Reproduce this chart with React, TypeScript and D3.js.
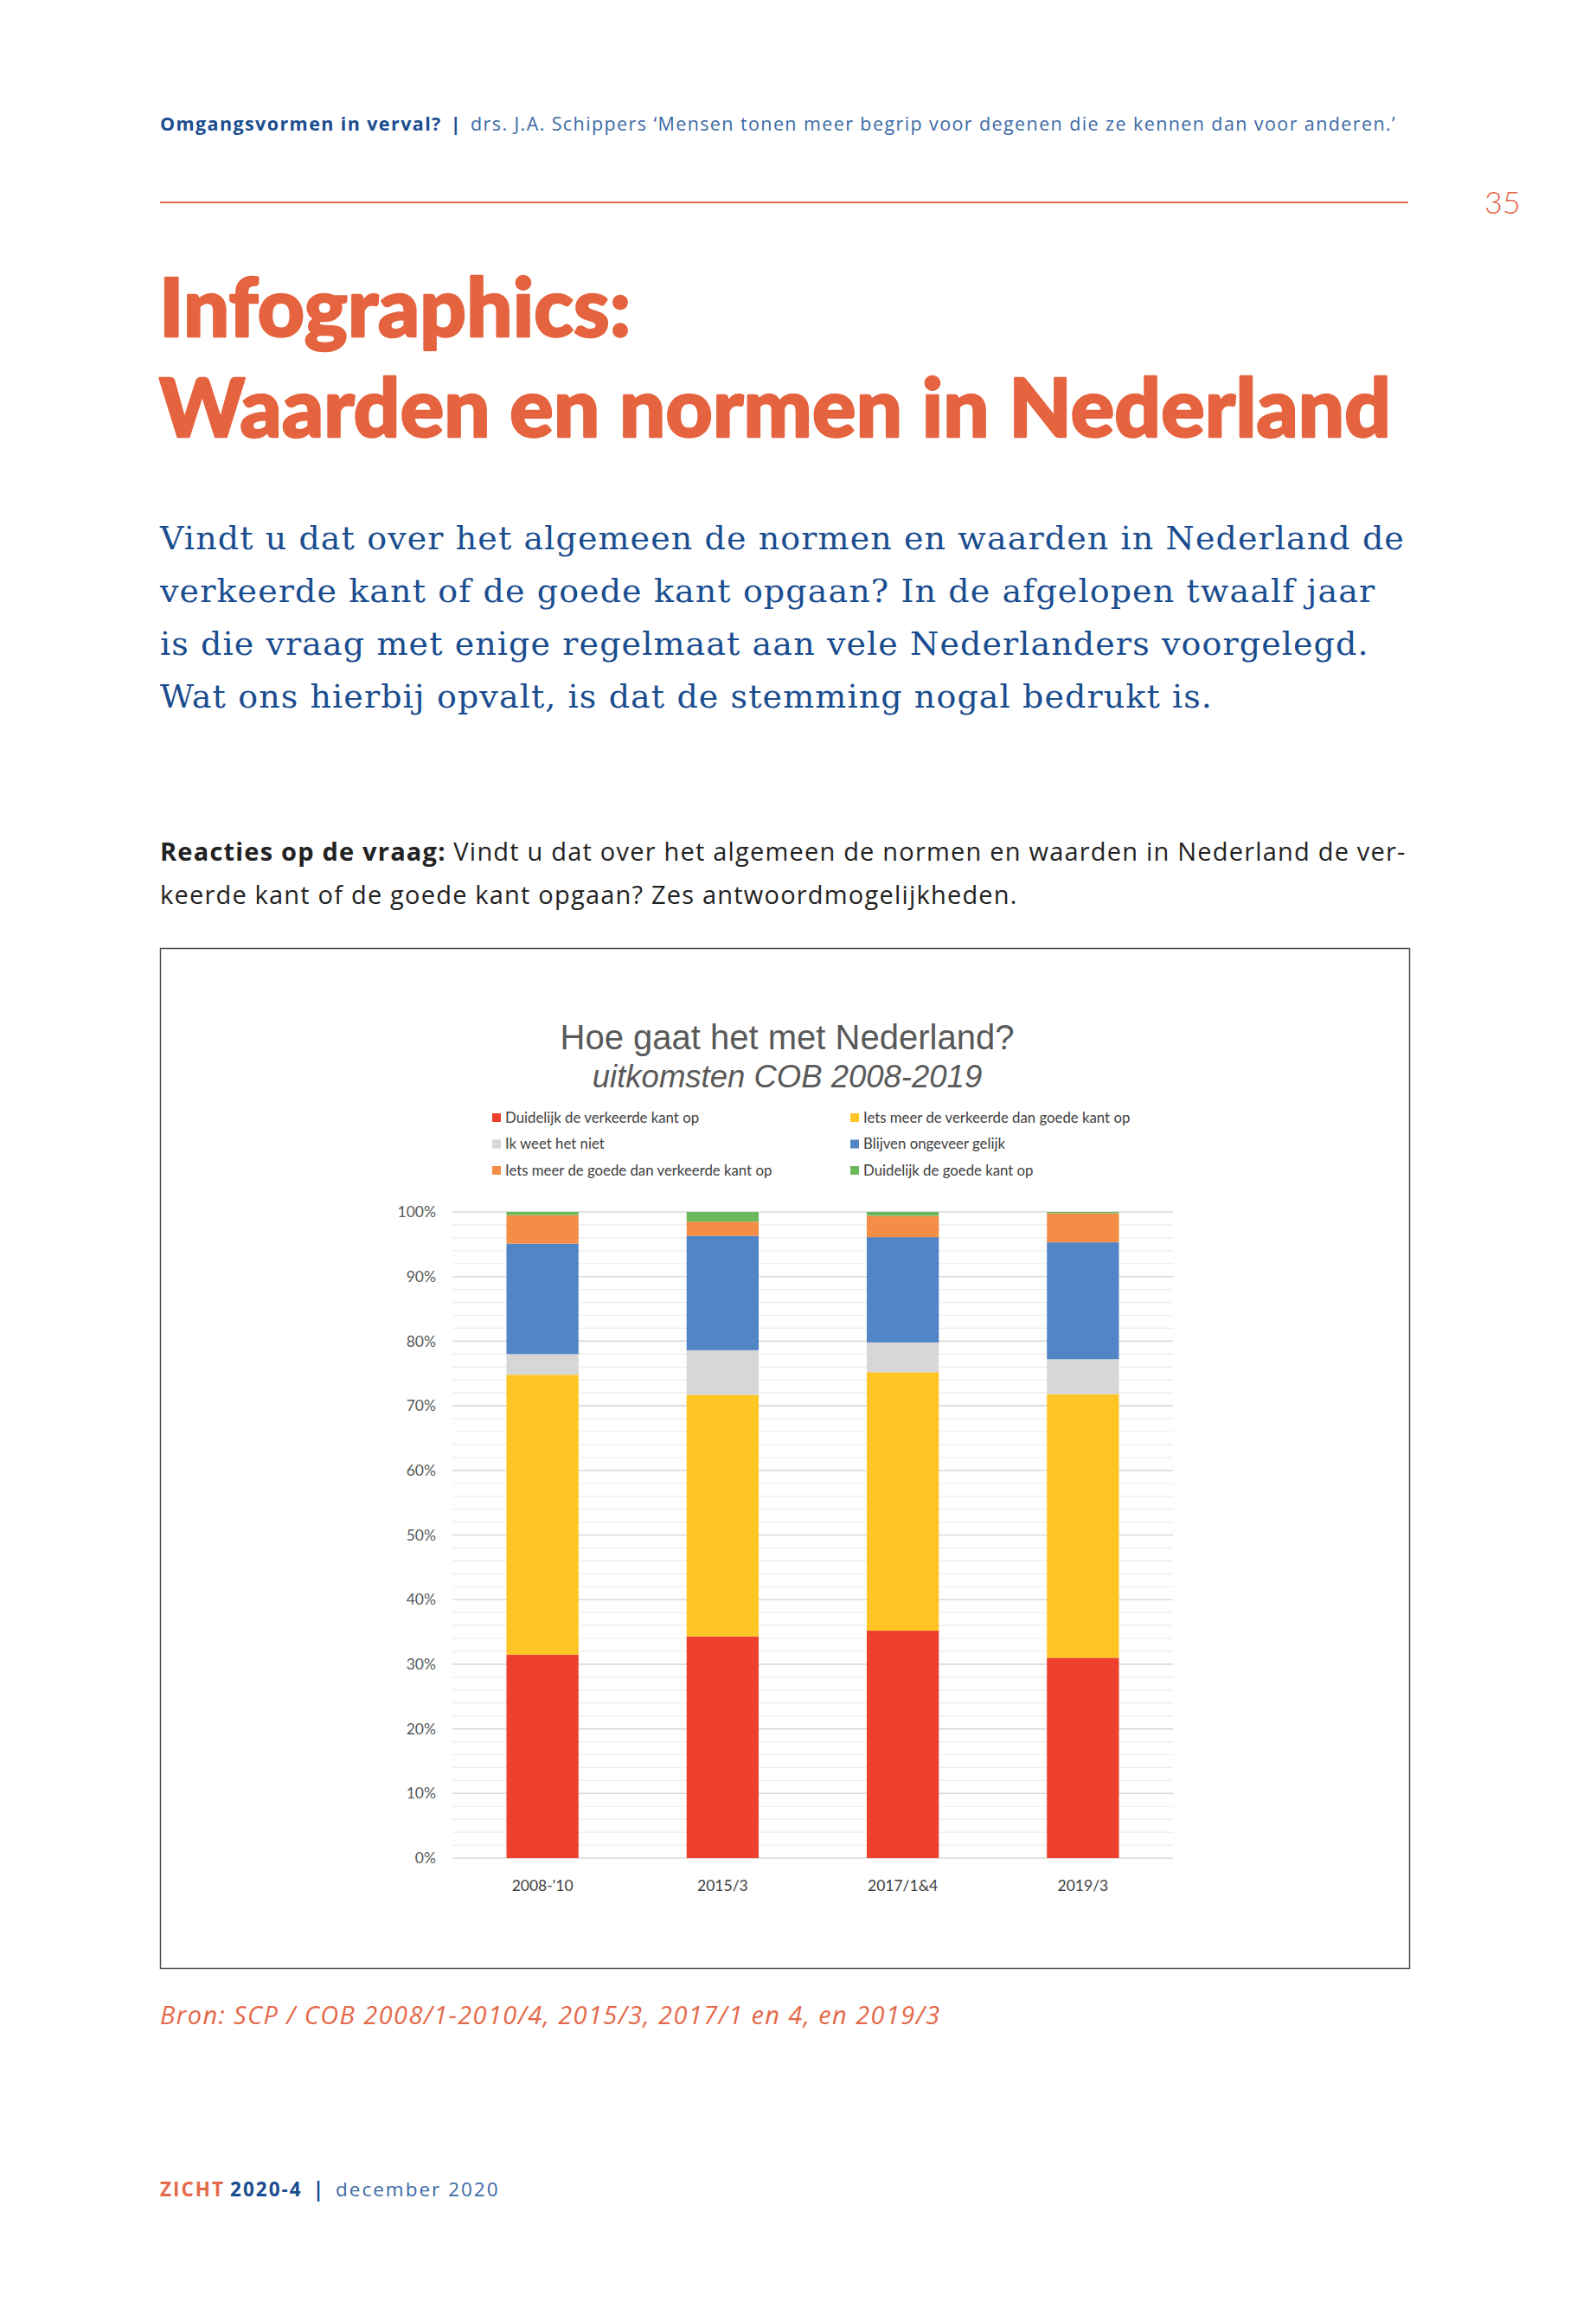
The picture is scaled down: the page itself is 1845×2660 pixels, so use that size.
import React from 'react';
import * as d3 from 'd3';

// survey waves (x axis)
const waves = ["2008-'10", '2015/3', '2017/1&4', '2019/3'];

// answer categories, bottom to top of each stack
const answers = [
  'Duidelijk de verkeerde kant op',
  'Iets meer de verkeerde dan goede kant op',
  'Ik weet het niet',
  'Blijven ongeveer gelijk',
  'Iets meer de goede dan verkeerde kant op',
  'Duidelijk de goede kant op',
];

// shares in % per wave, same order as answers
const duidelijkVerkeerd = [31.5, 34.3, 35.2, 31.0];
const ietsVerkeerd = [43.3, 37.4, 40.0, 40.8];
const weetNiet = [3.2, 6.9, 4.6, 5.4];
const gelijk = [17.1, 17.7, 16.3, 18.1];
const ietsGoed = [4.4, 2.2, 3.3, 4.5];
const duidelijkGoed = [0.5, 1.5, 0.6, 0.2];

const seriesValues = [duidelijkVerkeerd, ietsVerkeerd, weetNiet, gelijk, ietsGoed, duidelijkGoed];
const seriesColors = ['#ee412d', '#fec524', '#d7d7d7', '#5185c5', '#f48e46', '#6cb85b'];

const yTicks = [0, 10, 20, 30, 40, 50, 60, 70, 80, 90, 100];

const orange = '#e5633f';
const blue = '#1a4d8f';

const App: React.FC = () => {
  const W = 1845;
  const H = 2660;

  const x = d3.scaleBand<string>()
    .domain(waves)
    .range([523, 1356])
    .paddingInner(0.6)
    .paddingOuter(0.3);

  const y = d3.scaleLinear().domain([0, 100]).range([2148, 1401]);

  const rows = waves.map((w, i) => {
    const r: any = { wave: w };
    answers.forEach((a, k) => { r[a] = seriesValues[k][i]; });
    return r;
  });
  const stacked = d3.stack<any>().keys(answers)(rows);

  const minorTicks = d3.range(0, 101, 2).filter(v => v % 10 !== 0);

  return (
    <div style={{ position: 'absolute', left: 0, top: 0 }}>
      <svg width={W} height={H} style={{ display: 'block', background: '#fff' }}>
        {/* running header */}
        <text x={185} y={151} fontFamily="Open Sans" fontSize={21.5} fill={blue} letterSpacing={1.4}>
          <tspan fontWeight={700}>Omgangsvormen in verval?</tspan>
          <tspan fontWeight={700} dx={10}>|</tspan>
          <tspan dx={10} fill="#3b6aa5" fontWeight={400}>drs. J.A. Schippers ‘Mensen tonen meer begrip voor degenen die ze kennen dan voor anderen.’</tspan>
        </text>
        <line x1={185} x2={1628} y1={234} y2={234} stroke="#e4694a" strokeWidth={2} />
        <text x={1737} y={247} textAnchor="middle" fontFamily="Lato" fontWeight={300} fontSize={36} fill="#e4694a">35</text>

        {/* title */}
        <text fontFamily="Lato" fontWeight={900} fontSize={94} fill={orange} stroke={orange} strokeWidth={2.5} strokeLinejoin="round" letterSpacing={0.2}>
          <tspan x={184} y={389}>Infographics:</tspan>
          <tspan x={184} y={505}>Waarden en normen in Nederland</tspan>
        </text>

        {/* intro */}
        <text fontFamily="DejaVu Serif" fontSize={38} fill={blue} letterSpacing={1.1}>
          <tspan x={185} y={635}>Vindt u dat over het algemeen de normen en waarden in Nederland de</tspan>
          <tspan x={185} y={696}>verkeerde kant of de goede kant opgaan? In de afgelopen twaalf jaar</tspan>
          <tspan x={185} y={757}>is die vraag met enige regelmaat aan vele Nederlanders voorgelegd.</tspan>
          <tspan x={185} y={818}>Wat ons hierbij opvalt, is dat de stemming nogal bedrukt is.</tspan>
        </text>

        {/* question */}
        <text fontFamily="Open Sans" fontSize={29} fill="#222" letterSpacing={1.2}>
          <tspan x={185} y={995}><tspan fontWeight={700}>Reacties op de vraag:</tspan> Vindt u dat over het algemeen de normen en waarden in Nederland de ver-</tspan>
          <tspan x={185} y={1045}>keerde kant of de goede kant opgaan? Zes antwoordmogelijkheden.</tspan>
        </text>

        {/* chart frame */}
        <rect x={185.5} y={1096.5} width={1444} height={1179} fill="none" stroke="#4d4d4d" strokeWidth={1.5} />

        <text x={910} y={1213} textAnchor="middle" fontFamily="Liberation Sans" fontSize={40} fill="#595959">Hoe gaat het met Nederland?</text>
        <text x={910} y={1257} textAnchor="middle" fontFamily="Liberation Sans" fontStyle="italic" fontSize={36.5} fill="#595959">uitkomsten COB 2008-2019</text>

        {/* legend */}
        {answers.map((a, k) => {
          const col = k % 2;
          const row = Math.floor(k / 2);
          const lx = col === 0 ? 569 : 983;
          const ly = 1292 + row * 30.5;
          return (
            <g key={a}>
              <rect x={lx} y={ly - 5} width={10} height={10} fill={seriesColors[k]} />
              <text x={lx + 15} y={ly} dy="0.35em" fontFamily="Lato" fontSize={16.8} fill="#404040">{a}</text>
            </g>
          );
        })}

        {/* gridlines */}
        {minorTicks.map(t => (
          <line key={'m' + t} x1={523} x2={1356} y1={y(t)} y2={y(t)} stroke="#ececec" strokeWidth={1.2} />
        ))}
        {yTicks.map(t => (
          <line key={'g' + t} x1={523} x2={1356} y1={y(t)} y2={y(t)} stroke="#d9d9d9" strokeWidth={1.6} />
        ))}
        {yTicks.map(t => (
          <text key={'t' + t} x={504} y={y(t)} dy="0.35em" textAnchor="end" fontFamily="Lato" fontSize={17.5} fill="#595959">{t}%</text>
        ))}

        {/* stacked bars */}
        {stacked.map((s, k) => (
          <g key={s.key} fill={seriesColors[k]}>
            {s.map(d => (
              <rect
                key={d.data.wave}
                x={x(d.data.wave)}
                y={y(d[1])}
                width={x.bandwidth()}
                height={y(d[0]) - y(d[1])}
              />
            ))}
          </g>
        ))}

        {waves.map(w => (
          <text key={w} x={(x(w) as number) + x.bandwidth() / 2} y={2186} textAnchor="middle" fontFamily="Lato" fontSize={17.5} fill="#404040">{w}</text>
        ))}

        {/* source */}
        <text x={185} y={2340} fontFamily="Open Sans" fontStyle="italic" fontSize={29} fill="#e4694a" letterSpacing={1.4}>Bron: SCP / COB 2008/1-2010/4, 2015/3, 2017/1 en 4, en 2019/3</text>

        {/* footer */}
        <text x={185} y={2539} fontFamily="Open Sans" fontSize={22.5} letterSpacing={2}>
          <tspan fontWeight={700} fill="#e4694a">ZICHT</tspan>
          <tspan dx={6} fontWeight={700} fill={blue}>2020-4</tspan>
          <tspan dx={12} fontWeight={700} fill={blue}>|</tspan>
          <tspan dx={12} fill="#3b6aa5">december 2020</tspan>
        </text>
      </svg>
    </div>
  );
};

export default App;
